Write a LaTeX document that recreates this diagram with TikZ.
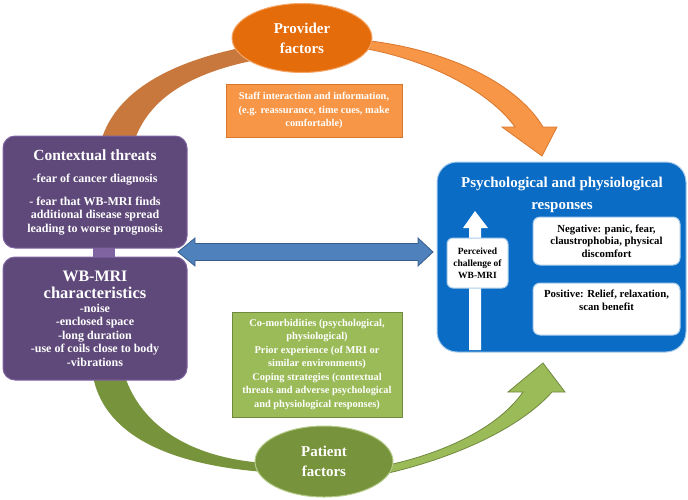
\documentclass[tikz,border=0pt]{standalone}
\usepackage{fontspec}
\setmainfont{Liberation Serif}
\usepackage{xcolor}
\usetikzlibrary{shapes.geometric,positioning}

\definecolor{provFill}{HTML}{E46C0A}
\definecolor{provLine}{HTML}{F4A76A}
\definecolor{staffFill}{HTML}{F79646}
\definecolor{staffLine}{HTML}{D9772E}
\definecolor{arcBrown}{HTML}{C8783C}
\definecolor{threatFill}{HTML}{5F497A}
\definecolor{threatLine}{HTML}{8064A2}
\definecolor{respFill}{HTML}{0A6CC4}
\definecolor{respLine}{HTML}{A9CCEB}
\definecolor{linkFill}{HTML}{4F81BD}
\definecolor{linkLine}{HTML}{385D8A}
\definecolor{patFill}{HTML}{77933C}
\definecolor{patLine}{HTML}{B5CC8A}
\definecolor{copeFill}{HTML}{9BBB59}
\definecolor{copeLine}{HTML}{71893F}

\tikzstyle{every node}+=[inner sep=0pt]
\tikzstyle{factor}=[ellipse, line width=1pt, text=white, align=center, font=\fontsize{15}{20}\selectfont\bfseries]
\tikzstyle{infobox}=[rectangle, line width=0.8pt, text=white, align=center, font=\fontsize{10.4}{13.5}\selectfont\bfseries]
\tikzstyle{mribox}=[rectangle, rounded corners=12pt, draw=threatLine, fill=threatFill, line width=1pt, text=white, align=center, minimum width=184pt, font=\fontsize{12}{13.5}\selectfont\bfseries]
\tikzstyle{whitebox}=[rectangle, rounded corners=7pt, draw=respLine, fill=white, line width=1pt]
\tikzstyle{smalltext}=[align=center, font=\fontsize{10.8}{12.5}\selectfont\bfseries]

\begin{document}
\begin{tikzpicture}[x=1pt,y=-1pt]
\useasboundingbox (0,0) rectangle (688,499);

\fill [arcBrown] (100,145) .. controls (112,95) and (165,62) .. (250,46) -- (256,60) .. controls (180,75) and (145,105) .. (133,145) -- cycle;
\draw [staffLine, fill=staffFill, line width=0.8pt] (362,40) .. controls (440,48) and (515,80) .. (543,127) -- (557,127) -- (542,156) -- (502,127) -- (515,127) .. controls (490,92) and (430,60) .. (362,48) -- cycle;

\fill [patFill] (92,370) .. controls (100,435) and (170,465) .. (265,472) -- (265,463) .. controls (190,458) and (138,425) .. (123,370) -- cycle;
\draw [copeLine, fill=copeFill, line width=0.8pt] (384,474) .. controls (455,458) and (520,428) .. (552,392) -- (565,392) -- (543,363) -- (508,392) -- (523,392) .. controls (500,425) and (450,452) .. (384,466) -- cycle;

\node [factor, draw=provLine, fill=provFill, minimum width=140pt, minimum height=69pt] (provider) at (302,38) {Provider\\factors};
\node [infobox, draw=staffLine, fill=staffFill, minimum width=176pt, minimum height=53pt] (staff) at (314,110.5) {Staff interaction and information,\\(e.g. reassurance, time cues, make\\comfortable)};

\node [factor, draw=patLine, fill=patFill, minimum width=138pt, minimum height=71pt] (patient) at (324,461.5) {Patient\\factors};
\node [infobox, draw=copeLine, fill=copeFill, minimum width=170pt, minimum height=105pt] (coping) at (317,364.5) {Co-morbidities (psychological,\\physiological)\\Prior experience (of MRI or\\similar environments)\\Coping strategies (contextual\\threats and adverse psychological\\and physiological responses)};

\fill [threatLine] (93,247) rectangle (115,258);
\node [mribox, minimum height=112pt] (threats) at (95,192) {{\fontsize{15.5}{18}\selectfont Contextual threats}\\[8.5pt]-fear of cancer diagnosis\\[9.5pt]- fear that WB-MRI finds\\additional disease spread\\leading to worse prognosis};
\node [mribox, minimum height=123pt] (wbmri) at (95,318.5) {{\fontsize{16}{17}\selectfont WB-MRI}\\[3.5pt]{\fontsize{16.5}{17}\selectfont characteristics}\\[0.5pt]-noise\\-enclosed space\\-long duration\\-use of coils close to body\\-vibrations};

\node [rectangle, rounded corners=20pt, draw=respLine, fill=respFill, line width=1pt, minimum width=249pt, minimum height=190pt] (resp) at (561.5,257) {};
\node [align=center, text=white, font=\fontsize{15}{22.5}\selectfont\bfseries] (resptitle) at (562,195) {Psychological and physiological\\responses};

\fill [white] (469,350) -- (469,228) -- (463,228) -- (475,211) -- (488,228) -- (481,228) -- (481,350) -- cycle;
\node [whitebox, rounded corners=6pt, align=center, font=\fontsize{9.5}{12}\selectfont\bfseries, minimum width=61pt, minimum height=50pt] (perceived) at (477.5,263) {Perceived\\challenge of\\WB-MRI};

\node [whitebox, smalltext, minimum width=147pt, minimum height=48pt] (negative) at (606.5,241) {Negative: panic, fear,\\claustrophobia, physical\\discomfort};
\node [whitebox, minimum width=147pt, minimum height=52pt] (positive) at (606.5,309) {};
\node [smalltext, below=7.5pt of positive.north] (positivetext) {Positive: Relief, relaxation,\\scan benefit};

\draw [linkLine, fill=linkFill, line width=0.8pt] (178,252) -- (195,238) -- (195,243.5) -- (418,243.5) -- (418,238) -- (433,252) -- (418,266) -- (418,260.5) -- (195,260.5) -- (195,266) -- cycle;
\end{tikzpicture}
\end{document}
